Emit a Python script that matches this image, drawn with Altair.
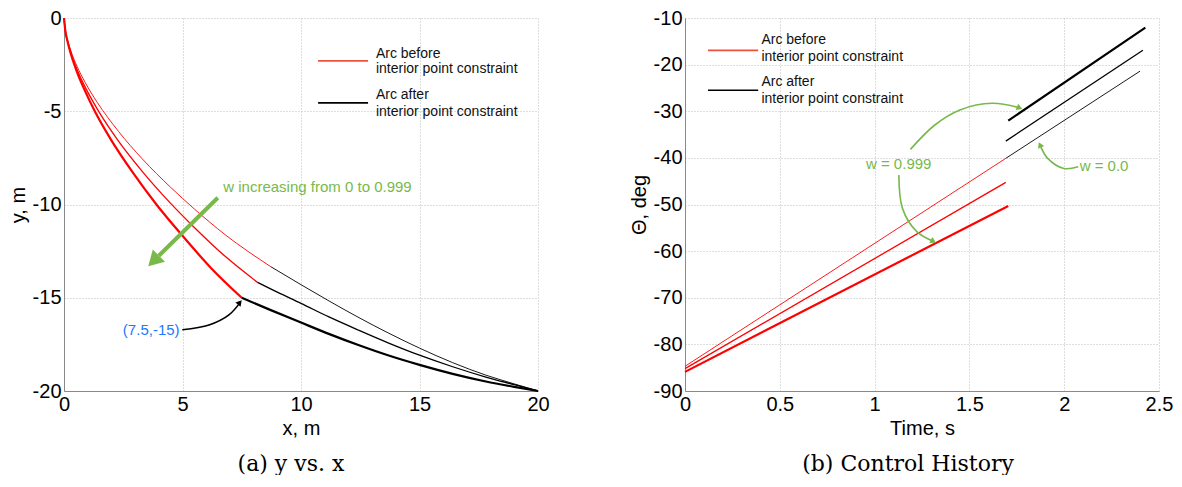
import altair as alt
import pandas as pd

# ---------------- Panel (a): y vs. x ----------------
a_r3_x = [0, 0.05, 0.15, 0.3, 0.55, 0.9, 1.3, 2.0, 2.9, 3.9, 5.0, 6.2, 7.5]
a_r3_y = [0, -0.62, -1.26, -1.97, -2.9, -3.95, -5.0, -6.56, -8.28, -10.0, -11.68, -13.4, -15.0]
a_b3_x = [7.5, 8.7, 10, 11.2, 12.45, 13.7, 15, 16.4, 17.8, 19, 20]
a_b3_y = [-15, -15.65, -16.33, -16.95, -17.55, -18.1, -18.6, -19.08, -19.49, -19.78, -20]

a_r2_x = [0, 0.05, 0.15, 0.3, 0.55, 0.9, 1.4, 2.3, 3.3, 4.5, 5.5, 6.8, 8.16]
a_r2_y = [0, -0.64, -1.25, -1.91, -2.76, -3.72, -4.87, -6.6, -8.22, -9.94, -11.23, -12.78, -14.17]
a_b2_x = [8.16, 9, 10, 11.18, 12.45, 13.7, 15, 16.4, 17.8, 19, 20]
a_b2_y = [-14.17, -14.7, -15.3, -16.03, -16.75, -17.43, -18.08, -18.7, -19.25, -19.66, -20]

a_r1_x = [0, 0.05, 0.15, 0.3, 0.55, 0.9, 1.4, 2.3, 3.3, 4.5, 5.5, 6.8, 8.72]
a_r1_y = [0, -0.62, -1.19, -1.8, -2.59, -3.47, -4.52, -6.08, -7.55, -9.08, -10.24, -11.62, -13.33]
a_b1_x = [8.72, 10, 11.18, 12.45, 13.7, 15, 16.4, 17.8, 19, 20]
a_b1_y = [-13.33, -14.3, -15.17, -16.07, -16.9, -17.7, -18.48, -19.15, -19.62, -20]

a_ticks_x = [0, 5, 10, 15, 20]
a_ticks_y = [0, -5, -10, -15, -20]

a_leg_line_x = [10.72, 12.83]
a_leg_line_y = [-2.30, -4.55]
a_leg_text_x = 13.16
a_leg_text_y = [-1.91, -2.75, -4.14, -5.03]
leg_texts = ["Arc before", "interior point constraint", "Arc after", "interior point constraint"]

a_green_arrow_x = [6.49, 4.0]
a_green_arrow_y = [-9.64, -12.75]
a_green_head = (3.78, -13.03)
a_green_text = ("w increasing from 0 to 0.999", 6.72, -9.05)

a_black_arrow_x = [4.99, 6.12, 6.96, 7.45]
a_black_arrow_y = [-16.72, -16.46, -15.92, -15.22]
a_black_head = (7.42, -15.25)
a_blue_text = ("(7.5,-15)", 3.68, -16.72)

# ---------------- Panel (b): Control History ----------------
b_r3_t = [0, 1.705]; b_r3_v = [-85.9, -50.3]
b_r2_t = [0, 1.692]; b_r2_v = [-85.2, -45.26]
b_r1_t = [0, 1.692]; b_r1_v = [-84.7, -40.1]
b_b3_t = [1.705, 2.428]; b_b3_v = [-32.0, -12.08]
b_b2_t = [1.692, 2.415]; b_b2_v = [-36.4, -16.9]
b_b1_t = [1.692, 2.40]; b_b1_v = [-40.1, -21.4]

b_ticks_x = [0, 0.5, 1, 1.5, 2, 2.5]
b_ticks_y = [-10, -20, -30, -40, -50, -60, -70, -80, -90]

b_leg_line_t = [0.121, 0.386]
b_leg_line_v = [-16.95, -25.5]
b_leg_text_t = 0.403
b_leg_text_v = [-14.72, -18.3, -23.8, -27.37]

b_arrow1_t = [1.189, 1.3175, 1.450, 1.620, 1.770]
b_arrow1_v = [-38.18, -32.95, -29.73, -28.3, -29.3]
b_head1 = (1.765, -29.3)
b_arrow2_t = [1.128, 1.147, 1.2226, 1.31]
b_arrow2_v = [-43.67, -50.83, -55.83, -57.9]
b_head2 = (1.31, -57.9)
b_arrow3_t = [2.074, 1.998, 1.913, 1.872]
b_arrow3_v = [-41.9, -42.26, -40.1, -37.2]
b_head3 = (1.872, -37.2)
b_text1 = ("w = 0.999", 1.127, -41.3)
b_text2 = ("w = 0.0", 2.21, -41.74)

RED = "#ff0000"
BLACK = "#000000"
GREEN = "#78b94a"
BLUE = "#2277ff"
SANS = "Liberation Sans"
LABEL_EXPR = "datum.value + ''"


def panel(xdom, ydom, xt, yt, xtitle, ytitle, caption, cdx,
          curves, leg_lx, leg_ly, leg_tx, leg_ty, extras):
    xsc = alt.Scale(domain=xdom, nice=False, zero=False)
    ysc = alt.Scale(domain=ydom, nice=False, zero=False)
    xax = alt.Axis(values=xt, title=xtitle, labelExpr=LABEL_EXPR, labelFlush=False)
    yax = alt.Axis(values=yt, title=ytitle, labelExpr=LABEL_EXPR, labelFlush=False)

    def X(f="x"):
        return alt.X(f"{f}:Q", scale=xsc, axis=xax, title=xtitle)

    def Y(f="y"):
        return alt.Y(f"{f}:Q", scale=ysc, axis=yax, title=ytitle)

    layers = []
    for xs, ys, color, w, interp in curves:
        df = pd.DataFrame({"x": xs, "y": ys})
        layers.append(alt.Chart(df).mark_line(color=color, strokeWidth=w,
                                              interpolate=interp).encode(x=X(), y=Y()))
    # legend
    for ly, col in zip(leg_ly, ["#f0503c", BLACK]):
        df = pd.DataFrame({"x": [leg_lx[0]], "x2": [leg_lx[1]], "y": [ly]})
        layers.append(alt.Chart(df).mark_rule(color=col, strokeWidth=1.6).encode(
            x=X(), x2="x2:Q", y=Y()))
    df = pd.DataFrame({"x": [leg_tx] * 4, "y": leg_ty, "t": leg_texts})
    layers.append(alt.Chart(df).mark_text(align="left", baseline="middle", font=SANS,
                                          fontSize=14, color="#111111").encode(
        x=X(), y=Y(), text="t:N"))
    for kind, data, style in extras:
        if kind == "path":
            xs, ys = data
            df = pd.DataFrame({"x": xs, "y": ys, "i": list(range(len(xs)))})
            layers.append(alt.Chart(df).mark_line(interpolate="catmull-rom", **style).encode(
                x=X(), y=Y(), order="i:Q"))
        elif kind == "head":
            (hx, hy) = data
            df = pd.DataFrame({"x": [hx], "y": [hy]})
            layers.append(alt.Chart(df).mark_point(shape="triangle-up", filled=True,
                                                   opacity=1, **style).encode(x=X(), y=Y()))
        elif kind == "text":
            t, tx, ty = data
            df = pd.DataFrame({"x": [tx], "y": [ty], "t": [t]})
            layers.append(alt.Chart(df).mark_text(baseline="middle", font=SANS, **style).encode(
                x=X(), y=Y(), text="t:N"))
    return alt.layer(*layers).properties(
        width=474, height=373,
        title=alt.TitleParams(caption, orient="bottom", font="DejaVu Serif", fontSize=22,
                              fontWeight="normal", color="#000000", offset=16, dx=cdx))


left = panel([0, 20], [-20, 0], a_ticks_x, a_ticks_y, "x, m", "y, m", "(a) y vs. x", -10,
             [(a_r1_x, a_r1_y, RED, 0.9, "monotone"), (a_b1_x, a_b1_y, BLACK, 0.9, "monotone"),
              (a_r2_x, a_r2_y, RED, 1.3, "monotone"), (a_b2_x, a_b2_y, BLACK, 1.3, "monotone"),
              (a_r3_x, a_r3_y, RED, 2.2, "monotone"), (a_b3_x, a_b3_y, BLACK, 2.2, "monotone")],
             a_leg_line_x, a_leg_line_y, a_leg_text_x, a_leg_text_y,
             [("path", (a_green_arrow_x, a_green_arrow_y), dict(color=GREEN, strokeWidth=4)),
              ("head", a_green_head, dict(color=GREEN, size=300, angle=225)),
              ("path", (a_black_arrow_x, a_black_arrow_y), dict(color=BLACK, strokeWidth=1.6)),
              ("head", a_black_head, dict(color=BLACK, size=45, angle=40)),
              ("text", a_green_text, dict(color=GREEN, fontSize=15, align="left")),
              ("text", a_blue_text, dict(color=BLUE, fontSize=15, align="center"))])

right = panel([0, 2.5], [-90, -10], b_ticks_x, b_ticks_y, "Time, s", "Θ, deg",
              "(b) Control History", -14,
              [(b_r1_t, b_r1_v, RED, 0.9, "linear"), (b_b1_t, b_b1_v, BLACK, 0.9, "linear"),
               (b_r2_t, b_r2_v, RED, 1.3, "linear"), (b_b2_t, b_b2_v, BLACK, 1.3, "linear"),
               (b_r3_t, b_r3_v, RED, 2.2, "linear"), (b_b3_t, b_b3_v, BLACK, 2.2, "linear")],
              b_leg_line_t, b_leg_line_v, b_leg_text_t, b_leg_text_v,
              [("path", (b_arrow1_t, b_arrow1_v), dict(color=GREEN, strokeWidth=1.6)),
               ("head", b_head1, dict(color=GREEN, size=45, angle=112)),
               ("path", (b_arrow2_t, b_arrow2_v), dict(color=GREEN, strokeWidth=1.6)),
               ("head", b_head2, dict(color=GREEN, size=45, angle=118)),
               ("path", (b_arrow3_t, b_arrow3_v), dict(color=GREEN, strokeWidth=1.6)),
               ("head", b_head3, dict(color=GREEN, size=45, angle=335)),
               ("text", b_text1, dict(color=GREEN, fontSize=15, align="center")),
               ("text", b_text2, dict(color=GREEN, fontSize=15, align="center"))])

chart = alt.hconcat(left, right, spacing=147, bounds="flush").properties(
    padding={"left": 0, "top": 0, "right": 0, "bottom": 0}
).configure_view(stroke=None).configure_axis(
    labelFont=SANS, labelFontSize=20, labelColor="#000000",
    titleFont=SANS, titleFontSize=20, titleFontWeight="normal", titleColor="#000000",
    domainColor="#8a8a8a", domainWidth=1, ticks=False,
    grid=True, gridColor="#bdbdbd", gridDash=[1, 2], gridWidth=1,
).configure_axisY(labelPadding=3, titlePadding=4).configure_axisX(labelPadding=3, titlePadding=4)

chart.save("out.html", embed_options={"renderer": "svg", "actions": False})
